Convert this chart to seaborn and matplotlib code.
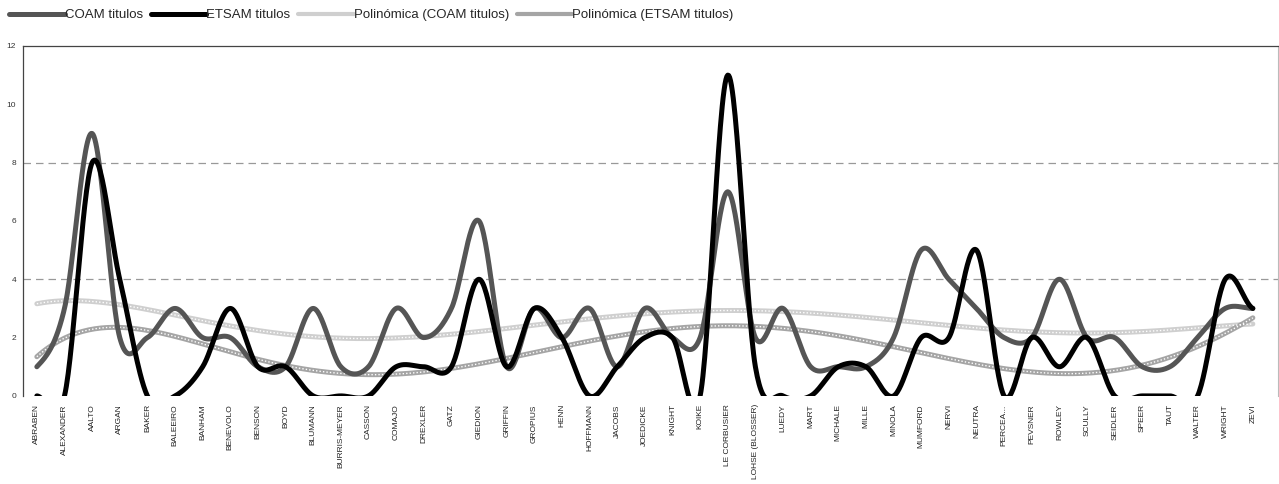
import numpy as np
import pandas as pd
import matplotlib
matplotlib.use("Agg")
import matplotlib.pyplot as plt
import seaborn as sns

# authors on the x axis
authors = ["ABRABEN", "ALEXANDER", "AALTO", "ARGAN", "BAKER", "BALEEIRO", "BANHAM",
           "BENEVOLO", "BENSON", "BOYD", "BLUMANN", "BURRIS-MEYER", "CASSON", "COMAJO",
           "DREXLER", "GATZ", "GIEDION", "GRIFFIN", "GROPIUS", "HENN", "HOFFMANN",
           "JACOBS", "JOEDICKE", "KNIGHT", "KOIKE", "LE CORBUSIER", "LOHSE (BLOSSER)",
           "LUEDY", "MART", "MICHALE", "MILLE", "MINOLA", "MUMFORD", "NERVI", "NEUTRA",
           "PERCEA...", "PEVSNER", "ROWLEY", "SCULLY", "SEIDLER", "SPEER", "TAUT",
           "WALTER", "WRIGHT", "ZEVI"]

coam = [1, 3, 9, 2, 2, 3, 2, 2, 1, 1, 3, 1, 1, 3, 2, 3, 6, 1, 3, 2, 3, 1, 3, 2, 2,
        7, 2, 3, 1, 1, 1, 2, 5, 4, 3, 2, 2, 4, 2, 2, 1, 1, 2, 3, 3]
etsam = [0, 0, 8, 4, 0, 0, 1, 3, 1, 1, 0, 0, 0, 1, 1, 1, 4, 1, 3, 2, 0, 1, 2, 2, 0,
         11, 1, 0, 0, 1, 1, 0, 2, 2, 5, 0, 2, 1, 2, 0, 0, 0, 0, 4, 3]

labels = ["COAM titulos", "ETSAM titulos", "Polinómica (COAM titulos)", "Polinómica (ETSAM titulos)"]


def smooth(y, n=30):
    # Excel-like smoothed line (Catmull-Rom through every point)
    y = np.asarray(y, float)
    p = np.concatenate([[y[0]], y, [y[-1]]])
    xs, ys = [], []
    t = np.linspace(0, 1, n, endpoint=False)
    for i in range(len(y) - 1):
        p0, p1, p2, p3 = p[i], p[i + 1], p[i + 2], p[i + 3]
        c1 = p1 + (p2 - p0) / 6
        c2 = p2 - (p3 - p1) / 6
        b = (1 - t) ** 3 * p1 + 3 * (1 - t) ** 2 * t * c1 + 3 * (1 - t) * t ** 2 * c2 + t ** 3 * p2
        xs.append(i + t)
        ys.append(b)
    xs.append([len(y) - 1])
    ys.append([y[-1]])
    return np.concatenate(xs), np.concatenate(ys)


x = np.arange(len(authors))
trend_coam = np.polyval(np.polyfit(x, coam, 6), np.linspace(0, len(x) - 1, 400))
trend_etsam = np.polyval(np.polyfit(x, etsam, 6), np.linspace(0, len(x) - 1, 400))
xt = np.linspace(0, len(x) - 1, 400)

sns.set_style("white")
plt.rcParams['font.family'] = ['Liberation Sans', 'DejaVu Sans']

fig = plt.figure(figsize=(12.79, 4.84), dpi=100)
ax = fig.add_axes([0.018, 0.182, 0.981, 0.723])

# trend lines with a dotted texture
sns.lineplot(x=xt, y=trend_coam, ax=ax, color="#cfcfcf", linewidth=3.6, zorder=2)
ax.plot(xt, trend_coam, color="white", linewidth=1.0, linestyle=(0, (1, 1.5)), zorder=2.1)
sns.lineplot(x=xt, y=trend_etsam, ax=ax, color="#a5a5a5", linewidth=3.6, zorder=2)
ax.plot(xt, trend_etsam, color="white", linewidth=1.0, linestyle=(0, (1, 1.5)), zorder=2.1)

sx, sy = smooth(coam)
sns.lineplot(x=sx, y=sy, ax=ax, color="#555555", linewidth=3.6, zorder=3, sort=False)
sx, sy = smooth(etsam)
sns.lineplot(x=sx, y=sy, ax=ax, color="#000000", linewidth=3.6, zorder=4, sort=False)

ax.set_xlim(-0.5, len(x) - 0.5 + 0.4)
ax.set_ylim(0, 12)
ax.set_yticks(range(0, 13, 2))
ax.set_yticklabels([str(v) for v in range(0, 13, 2)], fontsize=6, color="#333333")
ax.set_xticks(x)
ax.set_xticklabels(authors, rotation=90, fontsize=6, color="#222222")
ax.set_xticks(np.arange(len(x)) + 0.5, minor=True)
ax.tick_params(axis="x", which="major", length=0, pad=6)
ax.tick_params(axis="x", which="minor", length=2, color="#555555", width=0.8)
ax.tick_params(axis="y", length=3, color="#333333", width=0.8, pad=2)

for v in (4, 8):
    ax.axhline(v, color="#999999", linewidth=0.9, linestyle=(0, (6, 4)), zorder=1)

for s in ("left", "top"):
    ax.spines[s].set_color("#444444")
    ax.spines[s].set_linewidth(0.9)
ax.spines["right"].set_color("#bbbbbb")
ax.spines["right"].set_linewidth(0.8)
ax.spines["bottom"].set_visible(False)

handles = [
    plt.Line2D([], [], color="#555555", linewidth=3.6),
    plt.Line2D([], [], color="#000000", linewidth=3.6),
    plt.Line2D([], [], color="#cfcfcf", linewidth=3.0),
    plt.Line2D([], [], color="#a5a5a5", linewidth=3.0),
]
fig.legend(handles, labels, loc="upper left", bbox_to_anchor=(0.0, 1.0), ncol=4,
           frameon=False, fontsize=9.5, handlelength=4.2, handletextpad=0.0,
           columnspacing=0.6, borderaxespad=0.3)

fig.savefig("out.png", dpi=100)
